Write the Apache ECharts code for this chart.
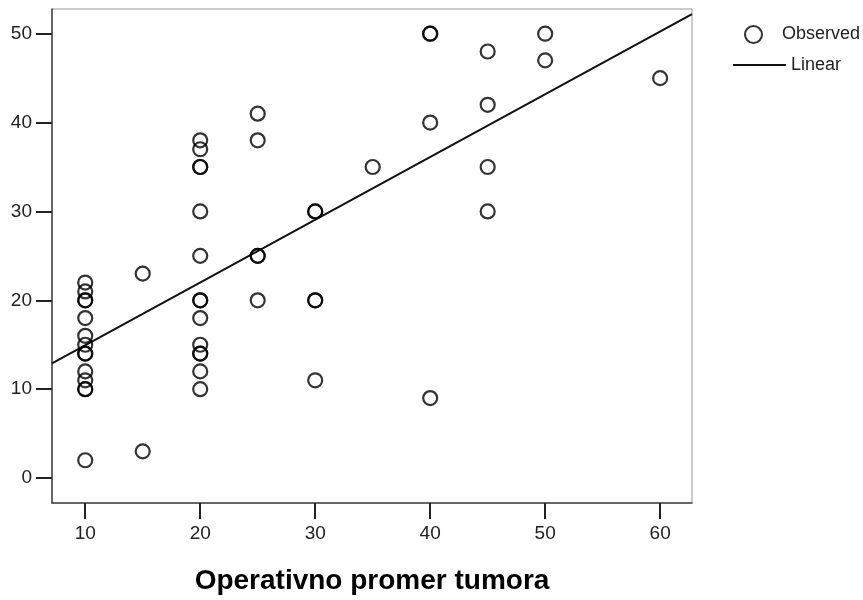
<!DOCTYPE html>
<html>
<head>
<meta charset="utf-8">
<script src="https://cdn.jsdelivr.net/npm/echarts@6/dist/echarts.min.js"></script>
<style>
html,body{margin:0;padding:0;background:#fff;}
#chart{width:863px;height:600px;}
</style>
</head>
<body>
<div id="chart"></div>
<script>
// Observed points: x (Operativno promer tumora) and y values
var obsX = [10,10,10,10,10,10,10,10,10,10,10,10,10,10,
            15,15,
            20,20,20,20,20,20,20,20,20,20,20,20,20,20,
            25,25,25,25,25,
            30,30,30,30,30,
            35,
            40,40,40,40,
            45,45,45,45,
            50,50,
            60];
var obsY = [22,21,20,20,18,16,15,14,14,12,11,10,10,2,
            23,3,
            38,37,35,35,30,25,20,20,18,15,14,14,12,10,
            41,38,25,25,20,
            30,30,20,20,11,
            35,
            50,50,40,9,
            48,42,35,30,
            50,47,
            45];
// Linear fit line endpoints (at the plot edges)
var lineX = [7.11, 62.77];
var lineY = [12.9, 52.2];
// Tick labels
var xTicks = [10,20,30,40,50,60];
var yTicks = [0,10,20,30,40,50];
var seriesNames = ['Observed','Linear'];
var xTitle = 'Operativno promer tumora';

var scatterData = obsX.map(function(x,i){return [x, obsY[i]];});
var lineData = lineX.map(function(x,i){return [x, lineY[i]];});

var chart = echarts.init(document.getElementById('chart'), null, {renderer:'canvas'});
var FONT = '"Liberation Sans", Arial, sans-serif';
chart.setOption({
  animation:false,
  backgroundColor:'#fff',
  grid:{left:52, top:9, right:171, bottom:90, show:true, borderColor:'#999', borderWidth:1},
  legend:[
    {data:[seriesNames[0]], left:739, top:20, itemWidth:47, itemHeight:17,
     itemStyle:{color:'rgba(0,0,0,0)', borderColor:'#000', borderWidth:2},
     textStyle:{fontFamily:FONT, fontSize:18, color:'#222'}},
    {data:[{name:seriesNames[1], icon:'rect'}], left:728, top:51, itemWidth:53, itemHeight:2,
     itemStyle:{color:'#111'},
     textStyle:{fontFamily:FONT, fontSize:18, color:'#222'}}
  ],
  xAxis:{
    type:'value', min:7.11, max:62.77,
    name:xTitle, nameLocation:'middle', nameGap:64,
    nameTextStyle:{fontFamily:FONT, fontSize:28, fontWeight:'bold', color:'#000'},
    axisLine:{show:true, onZero:false, lineStyle:{color:'#444', width:1.5}},
    axisTick:{show:true, length:16, lineStyle:{color:'#222', width:2}, customValues:xTicks},
    axisLabel:{fontFamily:FONT, fontSize:19, color:'#222', margin:21, customValues:xTicks},
    splitLine:{show:false}
  },
  yAxis:{
    type:'value', min:-2.81, max:52.78,
    axisLine:{show:true, onZero:false, lineStyle:{color:'#444', width:1.5}},
    axisTick:{show:true, length:16, lineStyle:{color:'#222', width:2}, customValues:yTicks},
    axisLabel:{fontFamily:FONT, fontSize:19, color:'#222', margin:20, customValues:yTicks},
    splitLine:{show:false}
  },
  series:[
    {name:seriesNames[0], type:'scatter', data:scatterData, symbol:'circle', symbolSize:14,
     itemStyle:{color:'rgba(0,0,0,0)', borderColor:'#000', borderWidth:2.2}, z:3},
    {name:seriesNames[1], type:'line', data:lineData, symbol:'none', showSymbol:false,
     lineStyle:{color:'#111', width:2}, itemStyle:{color:'#111'}, z:2}
  ]
});
</script>
</body>
</html>
